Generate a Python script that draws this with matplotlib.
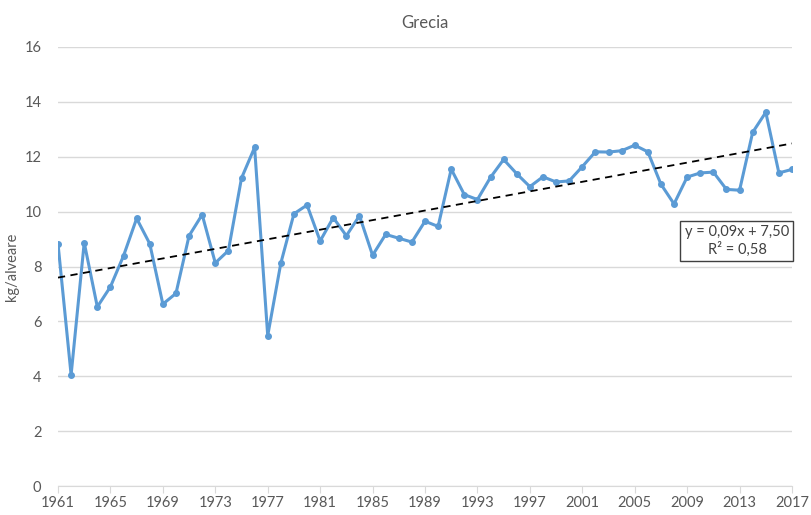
import matplotlib.pyplot as plt
import numpy as np

plt.rcParams['font.family'] = ['Lato', 'DejaVu Sans']

years = list(range(1961, 2018))
yield_kg = [
    8.83, 4.05, 8.87, 6.53, 7.26, 8.39, 9.75, 8.83, 6.63, 7.02,
    9.12, 9.89, 8.13, 8.58, 11.22, 12.34, 5.48, 8.12, 9.92, 10.24,
    8.93, 9.78, 9.12, 9.85, 8.41, 9.17, 9.03, 8.89, 9.65, 9.46,
    11.55, 10.62, 10.44, 11.25, 11.90, 11.38, 10.91, 11.27, 11.08, 11.12,
    11.64, 12.18, 12.17, 12.22, 12.42, 12.18, 11.00, 10.28, 11.26, 11.41,
    11.44, 10.81, 10.78, 12.89, 13.62, 11.41, 11.54,
]
tick_years = list(range(1961, 2018, 4))
y_ticks = [0, 2, 4, 6, 8, 10, 12, 14, 16]

text_col = '#595959'
grid_col = '#d9d9d9'

fig = plt.figure(figsize=(8.11, 5.15), dpi=100)
ax = fig.add_axes([58 / 811, 29 / 515, 734 / 811, 439 / 515])

ax.plot(years, yield_kg, '-o', color='#5b9bd5', lw=2.2, ms=4, zorder=3)

# linear trend
idx = np.arange(1, len(years) + 1)
slope, icpt = np.polyfit(idx, yield_kg, 1)
ax.plot(years, slope * idx + icpt, '--', color='black', lw=1.3,
        dashes=(4, 3), zorder=4)

ax.set_xlim(1961, 2017)
ax.set_ylim(0, 16)
ax.set_xticks(tick_years)
ax.set_yticks(y_ticks)
ax.grid(axis='y', color=grid_col, lw=1)
ax.set_axisbelow(True)
for s in ['top', 'right', 'left']:
    ax.spines[s].set_visible(False)
ax.spines['bottom'].set_color(grid_col)
ax.tick_params(axis='x', colors=text_col, length=5, color=grid_col,
               labelsize=10.5, pad=2)
ax.tick_params(axis='y', colors=text_col, length=0, labelsize=10.5, pad=12)

ax.set_ylabel('kg/alveare', color=text_col, fontsize=10.5, labelpad=4)
ax.set_title('Grecia', color=text_col, fontsize=12, pad=14)

ax.text(0.925, 0.558, 'y = 0,09x + 7,50\nR² = 0,58', transform=ax.transAxes,
        ha='center', va='center', fontsize=10.5, color='#404040',
        linespacing=1.2,
        bbox=dict(boxstyle='square,pad=0.3', fc='white', ec='#404040', lw=1),
        zorder=5)

fig.savefig('out.png', dpi=100)
